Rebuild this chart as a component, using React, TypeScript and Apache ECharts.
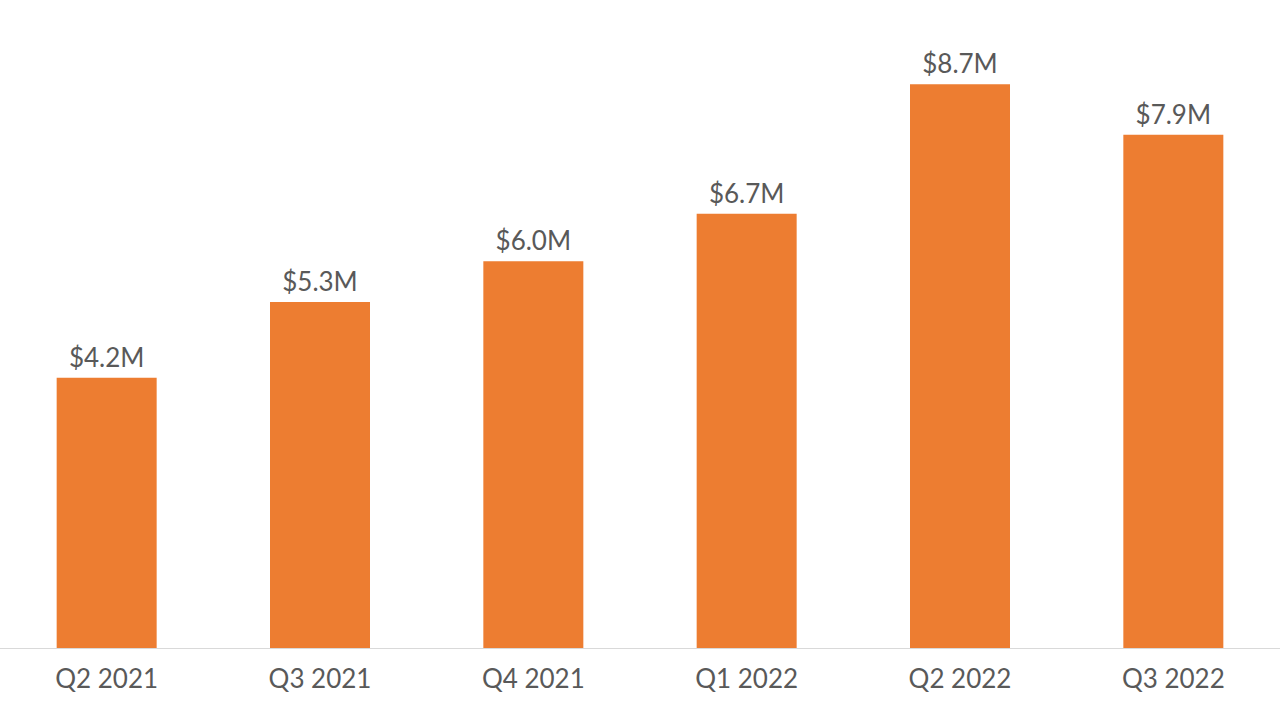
import React, { useEffect, useRef } from "react";
import * as echarts from "echarts";

const categories = ["Q2 2021", "Q3 2021", "Q4 2021", "Q1 2022", "Q2 2022", "Q3 2022"];
const revenue = [4.17, 5.34, 5.97, 6.7, 8.7, 7.92];

export default function App() {
  const ref = useRef<HTMLDivElement>(null);
  useEffect(() => {
    const chart = echarts.init(ref.current!, null, { renderer: "svg" });
    chart.setOption({
      animation: false,
      backgroundColor: "#ffffff",
      grid: { left: 0, right: 0, top: 0, bottom: 72 },
      xAxis: {
        type: "category",
        data: categories,
        axisLine: { show: true, lineStyle: { color: "#D9D9D9", width: 1 } },
        axisTick: { show: false },
        axisLabel: {
          color: "#595959",
          fontSize: 26,
          fontFamily: "Lato",
          margin: 17,
        },
      },
      yAxis: {
        type: "value",
        min: 0,
        max: 10,
        show: false,
        splitLine: { show: false },
      },
      series: [
        {
          type: "bar",
          data: revenue,
          barWidth: 100,
          itemStyle: { color: "#ED7D31" },
          label: {
            show: true,
            position: "top",
            distance: 8,
            color: "#595959",
            fontSize: 26,
            fontFamily: "Lato",
            formatter: (p: any) => "$" + Number(p.value).toFixed(1) + "M",
          },
        },
      ],
    });
    return () => chart.dispose();
  }, []);
  return (
    <div
      ref={ref}
      style={{ position: "absolute", left: 0, top: 0, width: 1280, height: 720 }}
    />
  );
}
